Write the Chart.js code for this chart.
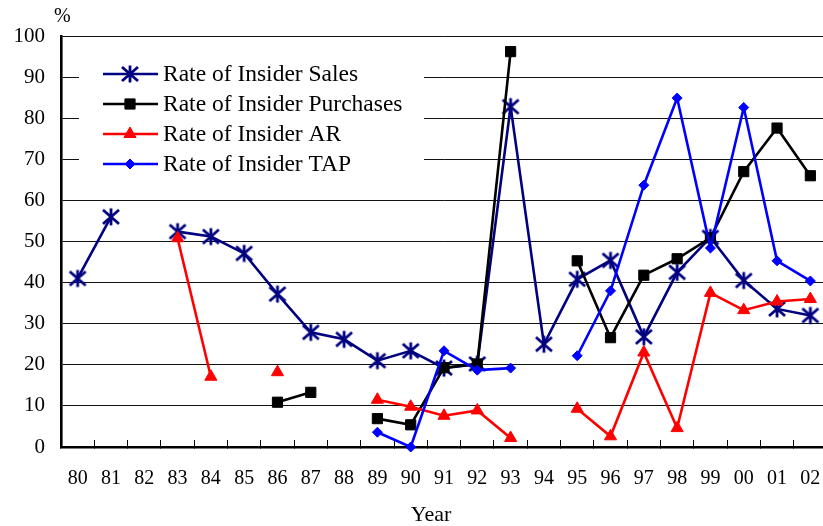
<!DOCTYPE html>
<html>
<head>
<meta charset="utf-8">
<script src="https://cdn.jsdelivr.net/npm/chart.js@4/dist/chart.umd.min.js"></script>
<style>
html,body{margin:0;padding:0;background:#fff;overflow:hidden;width:823px;height:526px;}
canvas{display:block;}
</style>
</head>
<body>
<canvas id="c" width="827" height="526"></canvas>
<script>
const years = ['80','81','82','83','84','85','86','87','88','89','90','91','92','93','94','95','96','97','98','99','00','01','02'];
const salesRate     = [41, 56, null, 52.4, 51.2, 47.1, 37.2, 27.9, 26.2, 21.0, 23.4, 19.2, 20.2, 82.8, 25.0, 40.8, 45.4, 26.8, 42.5, 51.0, 40.5, 33.6, 32.0];
const purchaseRate  = [null, null, null, null, null, null, 10.9, 13.3, null, 6.9, 5.4, 19.3, 20.2, 96.2, null, 45.3, 26.6, 41.8, 45.8, 50.9, 67.0, 77.6, 66.0];
const arRate        = [null, null, null, 50.8, 17.1, null, 18.2, null, null, 11.5, 9.8, 7.6, 8.9, 2.2, null, 9.3, 2.6, 23.0, 4.6, 37.5, 33.3, 35.4, 36.0];
const tapRate       = [null, null, null, null, null, null, null, null, null, 3.6, 0, 23.4, 18.7, 19.2, null, 22.2, 38.0, 63.7, 84.9, 48.4, 82.6, 45.3, 40.4];
const seriesNames = ['Rate of Insider Sales','Rate of Insider Purchases','Rate of Insider AR','Rate of Insider TAP'];
const yTicks = [0,10,20,30,40,50,60,70,80,90,100];
const xAxisTitle = 'Year';
const yUnit = '%';

const NAVY = '#000080', BLACK = '#000000', RED = '#ff0000', BLUE = '#0000ff';
const SERIF = '"Liberation Serif", "Times New Roman", serif';

// asterisk marker (vertical bar + X)
function makeAsterisk(color){
  const c = document.createElement('canvas');
  c.width = 20; c.height = 20;
  const g = c.getContext('2d');
  g.strokeStyle = color; g.lineWidth = 2.8; g.lineCap = 'butt';
  g.beginPath();
  g.moveTo(10, 1.5); g.lineTo(10, 18.5);
  g.moveTo(2, 3); g.lineTo(18, 17);
  g.moveTo(18, 3); g.lineTo(2, 17);
  g.stroke();
  return c;
}
const asterisk = makeAsterisk(NAVY);

const legendBox = {
  id: 'legendBox',
  beforeDatasetsDraw(chart){
    const ctx = chart.ctx;
    ctx.save();
    ctx.fillStyle = '#fff';
    ctx.fillRect(79, 46, 345, 144);
    ctx.restore();
  },
  afterDraw(chart){
    const ctx = chart.ctx;
    ctx.save();
    ctx.fillStyle = '#000';
    ctx.font = '20px ' + SERIF;
    ctx.textAlign = 'left';
    ctx.textBaseline = 'middle';
    ctx.fillText(yUnit, 54, 17);
    ctx.font = '22px ' + SERIF;
    ctx.textAlign = 'center';
    ctx.fillText(xAxisTitle, 431, 515);
    ctx.textAlign = 'left';
    const xs = 103, xe = 158, xm = 130, xt = 163;
    chart.data.datasets.forEach((ds, i) => {
      const y = 74 + i * 30;
      ctx.strokeStyle = ds.borderColor;
      ctx.lineWidth = ds.borderWidth;
      ctx.beginPath(); ctx.moveTo(xs, y); ctx.lineTo(xe, y); ctx.stroke();
      ctx.fillStyle = ds.pointBackgroundColor;
      ctx.strokeStyle = ds.pointBorderColor;
      ctx.lineWidth = 1;
      Chart.helpers.drawPoint(ctx, {pointStyle: ds.pointStyle, radius: ds.pointRadius, rotation: 0, borderWidth: 1}, xm, y);
      ctx.fillStyle = '#000';
      ctx.font = '23.5px ' + SERIF;
      ctx.textBaseline = 'middle';
      ctx.fillText(ds.label, xt, y + 1);
    });
    ctx.restore();
  }
};

function ds(label, data, color, style, radius, order){
  return {
    label, data, order,
    borderColor: color, backgroundColor: color,
    borderWidth: 2.6,
    pointStyle: style, pointRadius: radius, pointHoverRadius: radius,
    pointBackgroundColor: color, pointBorderColor: color, pointBorderWidth: 1,
    spanGaps: false, tension: 0, fill: false, clip: false
  };
}

new Chart(document.getElementById('c'), {
  type: 'line',
  data: {
    labels: years,
    datasets: [
      ds(seriesNames[0], salesRate, NAVY, asterisk, 9, 4),
      ds(seriesNames[1], purchaseRate, BLACK, 'rect', 7.2, 3),
      ds(seriesNames[2], arRate, RED, 'triangle', 7, 2),
      ds(seriesNames[3], tapRate, BLUE, 'rectRot', 5, 1)
    ]
  },
  options: {
    responsive: false,
    animation: false,
    events: [],
    layout: { autoPadding: false, padding: { top: 36, left: 0, right: 0, bottom: 0 } },
    plugins: { legend: { display: false }, tooltip: { enabled: false }, title: { display: false } },
    scales: {
      x: {
        offset: true,
        grid: { display: true, offset: true, drawOnChartArea: false, drawTicks: true, tickLength: -7, color: '#000', lineWidth: 1 },
        border: { display: true, color: '#000', width: 2.6 },
        ticks: { color: '#000', font: { family: SERIF, size: 20 }, padding: 27, maxRotation: 0, autoSkip: false },
        title: { display: false },
        afterFit(s){ s.height = 79; s.paddingLeft = 0; s.paddingRight = 0; }
      },
      y: {
        min: 0, max: 100,
        afterBuildTicks(s){ s.ticks = yTicks.map(v => ({ value: v })); },
        grid: { color: '#111', lineWidth: 1, drawTicks: false },
        border: { display: true, color: '#000', width: 2.6 },
        ticks: { color: '#000', font: { family: SERIF, size: 21 }, padding: 16 },
        afterFit(s){ s.width = 61; }
      }
    }
  },
  plugins: [legendBox]
});
</script>
</body>
</html>
